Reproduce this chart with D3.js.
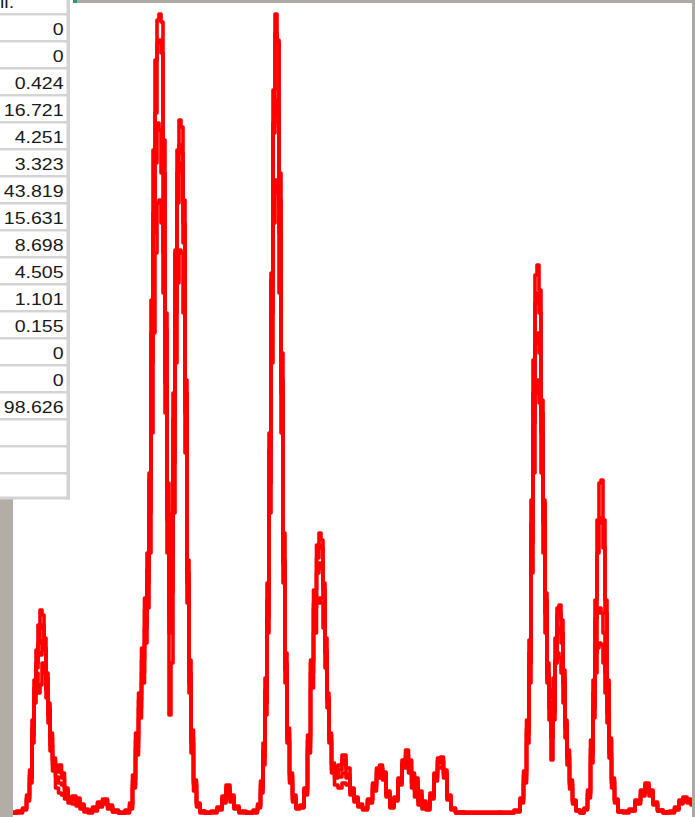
<!DOCTYPE html>
<html><head><meta charset="utf-8">
<script src="https://cdn.jsdelivr.net/npm/d3@7"></script>
<style>html,body{margin:0;padding:0;background:#fff;overflow:hidden}</style>
</head><body><svg id="c" width="695" height="817"></svg>
<script>
// Spreadsheet column values visible at left
const tableValues = ["0","0","0.424","16.721","4.251","3.323","43.819","15.631","8.698","4.505","1.101","0.155","0","0","98.626","","",""];
const headerFragment = "ll.";

// Shared x channel positions
const channel = [
  0,7,12,15,18,20,22,24,26,28,30,32,34,36,38,41,44,47,50,53,
  57,61,65,69,73,77,82,87,92,97,102,109,
  115,118,121,124,127,130,133,135,137,139,141,143,145,147,149,151,153,155,157,159,161,163,165,167,169,171,173,175,177,179,182,185,189,
  195,201,207,211,215,219,223,229,237,
  243,246,249,251,253,255,257,259,261,263,265,267,269,271,273,275,278,281,285,
  289,293,296,299,302,305,307,309,311,313,315,317,320,323,327,331,335,339,343,347,352,
  357,362,365,368,371,375,379,383,387,391,394,397,400,403,407,411,415,419,423,426,429,432,436,440,445,
  457,477,497,505,509,512,
  515,517,519,521,523,525,527,529,531,533,535,537,539,541,543,545,547,549,551,553,555,558,561,565,569,
  573,576,579,581,583,585,587,589,591,593,595,597,600,603,607,
  613,619,625,630,634,638,642,647,653,659,664,668,672,676,680
];

const sample1 = [
  0,1,5,18,43,93,133,163,188,203,198,163,123,98,68,48,41,43,35,23,
  13,15,13,7,3,2,5,10,13,7,2,0,
  2,8,33,73,113,153,203,243,333,513,663,753,793,799,791,673,483,293,203,253,393,563,663,693,686,613,433,253,153,83,33,10,2,
  0,1,5,15,28,18,7,1,0,
  2,7,28,63,123,213,363,533,723,799,773,613,433,253,143,73,33,13,5,
  7,23,73,153,223,268,280,273,223,163,113,73,43,35,43,53,38,21,13,7,4,
  13,28,43,48,41,20,7,15,33,53,63,53,38,31,18,10,7,18,38,53,56,43,18,5,1,
  0,0,0,2,13,38,
  93,173,313,453,538,548,523,413,313,213,133,93,53,93,153,198,208,193,143,93,63,33,13,3,1,
  5,23,73,133,213,293,330,333,293,213,133,73,33,13,2,
  1,3,13,23,30,23,11,3,1,1,5,13,16,13,10
];
const sample2 = [
  0,2,4,15,38,85,125,150,170,185,188,175,140,105,75,52,36,30,28,20,
  14,13,10,6,2,1,4,8,11,6,1,0,
  1,6,28,65,105,140,185,230,300,450,600,700,770,773,760,640,500,330,253,290,420,560,640,668,660,590,420,240,140,75,30,8,1,
  1,2,6,17,25,16,6,2,1,
  1,6,24,55,110,195,330,500,690,780,770,640,460,280,160,80,38,15,6,
  6,20,65,140,210,255,268,265,230,175,120,78,48,40,48,58,45,25,15,8,4,
  12,25,40,45,40,22,8,14,30,50,58,52,40,35,22,12,6,16,35,50,52,40,16,4,1,
  0,0,1,3,12,33,
  85,160,290,420,510,520,500,400,310,220,150,110,90,120,175,205,200,180,135,90,58,30,12,3,1,
  4,20,65,120,195,260,290,295,265,200,130,75,35,14,2,
  2,4,12,22,28,22,10,3,1,2,6,12,15,14,11
];
const sample3 = [
  1,1,3,12,30,70,110,145,160,158,172,165,135,110,80,55,45,48,40,25,
  16,17,15,9,4,3,6,11,14,8,3,1,
  3,10,38,80,120,165,215,260,340,480,580,650,690,683,640,560,430,300,180,220,350,500,610,645,650,570,400,230,130,70,28,9,2,
  0,1,4,12,22,14,5,1,0,
  3,9,32,70,135,230,380,540,680,713,700,580,420,250,150,85,40,18,7,
  8,25,78,150,205,240,250,245,215,160,115,80,50,38,36,40,35,24,16,9,5,
  14,30,45,46,38,18,6,16,35,48,55,45,30,22,12,6,5,20,40,55,53,38,15,4,0,
  1,1,0,2,15,42,
  80,150,270,390,470,480,460,380,290,200,140,105,75,100,150,180,185,170,130,85,55,28,11,2,0,
  4,18,58,105,160,200,205,200,180,140,100,60,30,12,1,
  1,2,10,19,25,20,9,2,0,1,4,10,14,11,9
];
const sample4 = [
  0,0,4,14,35,78,118,140,120,128,150,140,115,90,62,42,25,20,18,14,
  10,9,7,4,1,0,2,6,9,4,1,0,
  0,4,25,58,95,130,170,205,260,380,480,560,610,613,590,520,400,260,98,150,300,450,530,563,560,500,360,210,120,60,22,6,0,
  0,0,3,10,18,11,4,0,0,
  0,5,20,48,98,180,300,450,590,633,620,520,380,230,130,70,30,11,4,
  5,18,60,125,180,210,215,210,185,145,105,70,40,28,25,30,28,18,11,6,3,
  10,22,35,38,33,16,5,12,28,45,50,40,25,16,8,4,3,14,32,45,46,35,13,3,0,
  0,0,0,1,10,30,
  70,130,240,340,420,433,410,340,260,180,130,115,123,135,150,160,155,140,110,75,48,24,9,2,0,
  3,15,50,95,140,165,170,168,150,120,90,55,25,10,1,
  0,2,9,17,22,17,8,2,0,0,3,9,12,10,8
];

const svg = d3.select("#c");
svg.append("rect").attr("width",695).attr("height",817).attr("fill","#ffffff");

const x = d3.scaleLinear().domain([0,680]).range([13,693]);
const y = d3.scaleLinear().domain([0,800]).range([813,13]);

svg.append("defs").append("clipPath").attr("id","plot")
  .append("rect").attr("x",13).attr("y",3).attr("width",680).attr("height",814);

const line = d3.line()
  .x((d,i)=>x(channel[i]))
  .y(d=>y(d))
  .curve(d3.curveStep);

svg.append("g").attr("clip-path","url(#plot)")
  .selectAll("path")
  .data([sample4, sample3, sample2, sample1])
  .join("path")
  .attr("d", line)
  .attr("fill","none")
  .attr("stroke","#ff0000")
  .attr("stroke-width",3.6)
  .attr("stroke-linejoin","round");

// window chrome
svg.append("rect").attr("x",77).attr("y",0).attr("width",618).attr("height",3).attr("fill","#aeaaa3");
svg.append("rect").attr("x",73).attr("y",0).attr("width",4).attr("height",3).attr("fill","#1f9e6e");
svg.append("rect").attr("x",692).attr("y",0).attr("width",3).attr("height",817).attr("fill","#aeaaa3");
svg.append("rect").attr("x",0).attr("y",497).attr("width",13).attr("height",320).attr("fill","#b2aea7");
svg.append("rect").attr("x",0).attr("y",492).attr("width",13).attr("height",4).attr("fill","#1f9e6e");

// spreadsheet table
const tbl = svg.append("g");
tbl.append("rect").attr("x",0).attr("y",0).attr("width",67).attr("height",497).attr("fill","#fff");
const borders = d3.range(18).map(k => 13 + 27*k);
tbl.selectAll("rect.hb").data(borders).join("rect").attr("class","hb")
  .attr("x",0).attr("y",d=>d).attr("width",70).attr("height",2.5).attr("fill","#d4d4d4");
tbl.append("rect").attr("x",0).attr("y",496.5).attr("width",70).attr("height",3).attr("fill","#d4d4d4");
tbl.append("rect").attr("x",66.5).attr("y",0).attr("width",3.5).attr("height",499.5).attr("fill","#d4d4d4");

tbl.selectAll("text.v").data(tableValues).join("text").attr("class","v")
  .attr("transform",(d,i)=>`translate(63.5,${34.5+27*i}) scale(1.15,1)`)
  .attr("text-anchor","end")
  .attr("font-family","'Liberation Sans', Arial, sans-serif")
  .attr("font-size",17)
  .attr("fill","#1a1a1a")
  .text(d=>d);
tbl.append("text")
  .attr("transform","translate(0,8) scale(1.15,1)")
  .attr("font-family","'Liberation Sans', Arial, sans-serif")
  .attr("font-size",17).attr("fill","#1a1a1a")
  .text(headerFragment);
</script>
</body></html>
